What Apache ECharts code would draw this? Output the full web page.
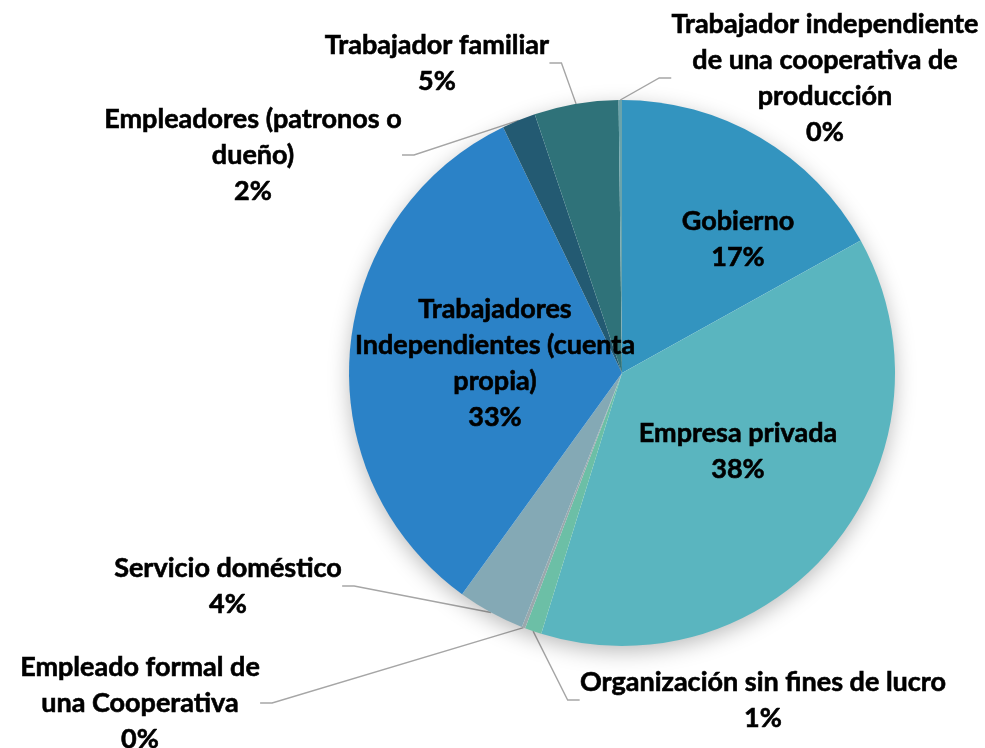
<!DOCTYPE html>
<html>
<head>
    <meta charset="utf-8" />
    <title>Pie</title>
    <script src="https://cdn.jsdelivr.net/npm/echarts@6/dist/echarts.min.js"></script>
    <style type="text/css">
        body { margin: 0; padding: 0; background: #fff; }
        #main { width: 985px; height: 748px; }
    </style>
</head>
<body>
    <div id="main"></div>
    <script type="text/javascript">
        // categories, clockwise from 12 o'clock (line breaks as in the picture)
        var categories = [
            'Gobierno',
            'Empresa privada',
            'Organización sin fines de lucro',
            'Empleado formal de\nuna Cooperativa',
            'Servicio doméstico',
            'Trabajadores\nIndependientes (cuenta\npropia)',
            'Empleadores (patronos o\ndueño)',
            'Trabajador familiar',
            'Trabajador independiente\nde una cooperativa de\nproducción'
        ];
        // shares in percent (the two "0%" slices are thin slivers)
        var values = [17, 38, 1, 0.2, 4, 33, 2, 5, 0.2];

        var colors = ['#3394bf', '#5ab5bf', '#6cbfa6', '#9aa8ad', '#84a9b5', '#2b82c7', '#235a72', '#2f7279', '#6aa3ab'];
        var insideLabels = [0, 1, 5];
        // label centres (px)
        var labelPos = [
            [738, 239], [738, 451], [763, 700], [140, 703], [228, 586],
            [495, 363], [253, 155], [437, 63], [825, 78]
        ];

        var myChart = echarts.init(document.getElementById('main'));

        var pieData = values.map(function (v, i) {
            var inside = insideLabels.indexOf(i) >= 0;
            return {
                name: categories[i],
                value: v,
                itemStyle: { color: colors[i] },
                label: { position: inside ? 'inside' : 'outside' },
                labelLine: { show: !inside }
            };
        });

        myChart.setOption({
            backgroundColor: '#ffffff',
            animation: false,
            series: [
                {
                    // soft shadow under the pie
                    type: 'pie',
                    silent: true,
                    center: [622, 373],
                    radius: 272,
                    label: { show: false },
                    labelLine: { show: false },
                    itemStyle: {
                        color: '#ffffff',
                        shadowBlur: 22,
                        shadowOffsetY: 6,
                        shadowColor: 'rgba(0,0,0,0.28)'
                    },
                    data: [{ value: 1 }]
                },
                {
                    type: 'pie',
                    center: [622, 373],
                    radius: 273,
                    startAngle: 90,
                    clockwise: true,
                    itemStyle: { borderWidth: 0 },
                    label: {
                        fontFamily: 'Lato',
                        fontWeight: 'bold',
                        fontSize: 27,
                        lineHeight: 36,
                        color: '#000',
                        textBorderColor: '#000',
                        textBorderWidth: 0.6,
                        align: 'center',
                        formatter: function (p) {
                            return p.name + '\n' + Math.round(p.value) + '%';
                        }
                    },
                    labelLine: {
                        length: 15,
                        length2: 12,
                        lineStyle: { color: '#a6a6a6', width: 1.4 }
                    },
                    labelLayout: function (params) {
                        var pos = labelPos[params.dataIndex];
                        return { x: pos[0], y: pos[1], align: 'center', verticalAlign: 'middle' };
                    },
                    data: pieData
                }
            ]
        });
    </script>
</body>
</html>
